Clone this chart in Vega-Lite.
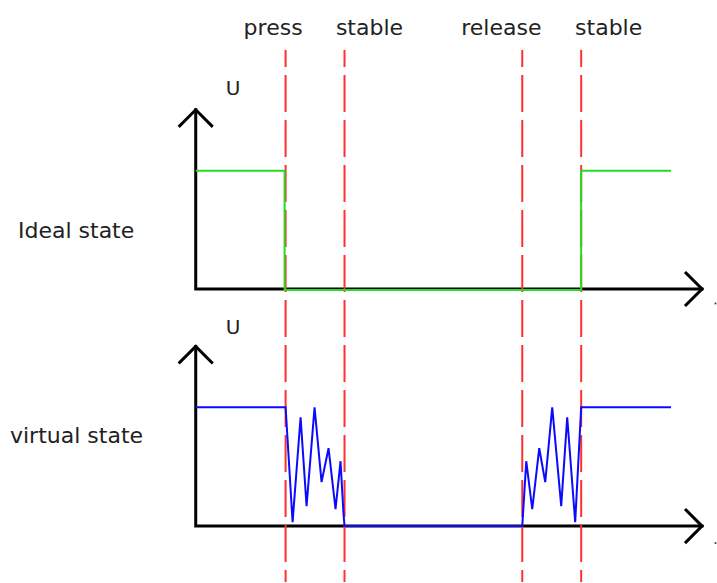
{
  "$schema": "https://vega.github.io/schema/vega-lite/v6.json",
  "width": 717,
  "height": 583,
  "padding": 0,
  "autosize": {"type": "fit", "contains": "padding"},
  "background": "white",
  "config": {"view": {"stroke": null}},
  "datasets": {
    "axes": [
      {"seg": "u-axis", "i": 1, "x": 196, "y": 473},
      {"seg": "u-axis", "i": 2, "x": 196, "y": 293.5},
      {"seg": "u-axis", "i": 3, "x": 703, "y": 293.5},
      {"seg": "u-up", "i": 1, "x": 180, "y": 457},
      {"seg": "u-up", "i": 2, "x": 196, "y": 473},
      {"seg": "u-up", "i": 3, "x": 212, "y": 457},
      {"seg": "u-right", "i": 1, "x": 687, "y": 309.5},
      {"seg": "u-right", "i": 2, "x": 703, "y": 293.5},
      {"seg": "u-right", "i": 3, "x": 687, "y": 277.5},
      {"seg": "l-axis", "i": 1, "x": 196, "y": 236},
      {"seg": "l-axis", "i": 2, "x": 196, "y": 56},
      {"seg": "l-axis", "i": 3, "x": 703, "y": 56},
      {"seg": "l-up", "i": 1, "x": 180, "y": 220},
      {"seg": "l-up", "i": 2, "x": 196, "y": 236},
      {"seg": "l-up", "i": 3, "x": 212, "y": 220},
      {"seg": "l-right", "i": 1, "x": 687, "y": 72},
      {"seg": "l-right", "i": 2, "x": 703, "y": 56},
      {"seg": "l-right", "i": 3, "x": 687, "y": 40}
    ],
    "ideal": [
      {"i": 1, "x": 196, "y": 412},
      {"i": 2, "x": 285, "y": 412},
      {"i": 3, "x": 285, "y": 292.5},
      {"i": 4, "x": 582, "y": 292.5},
      {"i": 5, "x": 582, "y": 412},
      {"i": 6, "x": 672, "y": 412}
    ],
    "virtual": [
      {"i": 1, "x": 196, "y": 175},
      {"i": 2, "x": 286, "y": 175},
      {"i": 3, "x": 293, "y": 60},
      {"i": 4, "x": 301, "y": 165},
      {"i": 5, "x": 307, "y": 76},
      {"i": 6, "x": 315, "y": 175},
      {"i": 7, "x": 322, "y": 100},
      {"i": 8, "x": 329, "y": 134},
      {"i": 9, "x": 336, "y": 73},
      {"i": 10, "x": 341, "y": 121},
      {"i": 11, "x": 344, "y": 68},
      {"i": 12, "x": 345, "y": 56},
      {"i": 13, "x": 523, "y": 56},
      {"i": 14, "x": 527, "y": 121},
      {"i": 15, "x": 533, "y": 73},
      {"i": 16, "x": 540, "y": 134},
      {"i": 17, "x": 546, "y": 100},
      {"i": 18, "x": 553, "y": 175},
      {"i": 19, "x": 562, "y": 76},
      {"i": 20, "x": 568, "y": 165},
      {"i": 21, "x": 576, "y": 60},
      {"i": 22, "x": 582, "y": 175},
      {"i": 23, "x": 672, "y": 175}
    ],
    "events": [
      {"x": 286, "y": 533, "y2": 0},
      {"x": 345, "y": 533, "y2": 0},
      {"x": 523, "y": 533, "y2": 0},
      {"x": 582, "y": 533, "y2": 0}
    ],
    "labels": [
      {"label": "press", "x": 273.5, "y": 548},
      {"label": "stable", "x": 370, "y": 548},
      {"label": "release", "x": 502, "y": 548},
      {"label": "stable", "x": 609.5, "y": 548}
    ],
    "axisLabels": [
      {"label": "U", "x": 233.5, "y": 488},
      {"label": "U", "x": 233.5, "y": 248}
    ],
    "sideLabels": [
      {"label": "Ideal state", "x": 18, "y": 345},
      {"label": "virtual state", "x": 10, "y": 139}
    ],
    "dots": [
      {"x": 716.5, "y": 279},
      {"x": 716.5, "y": 39}
    ]
  },
  "encoding": {
    "x": {"field": "x", "type": "quantitative", "scale": {"domain": [0, 717], "nice": false, "zero": false}, "axis": null},
    "y": {"field": "y", "type": "quantitative", "scale": {"domain": [0, 583], "nice": false, "zero": false}, "axis": null}
  },
  "layer": [
    {
      "data": {"name": "axes"},
      "mark": {"type": "line", "color": "black", "strokeWidth": 3, "strokeCap": "square", "strokeJoin": "miter", "clip": false},
      "encoding": {
        "detail": {"field": "seg", "type": "nominal"},
        "order": {"field": "i", "type": "quantitative"}
      }
    },
    {
      "data": {"name": "events"},
      "mark": {"type": "rule", "color": "#ff3030", "strokeWidth": 2, "strokeDash": [37, 8], "strokeDashOffset": 20},
      "encoding": {"y2": {"field": "y2"}}
    },
    {
      "data": {"name": "ideal"},
      "mark": {"type": "line", "color": "#22dd22", "strokeWidth": 2},
      "encoding": {"order": {"field": "i", "type": "quantitative"}}
    },
    {
      "data": {"name": "virtual"},
      "mark": {"type": "line", "color": "#0a0aff", "strokeWidth": 2},
      "encoding": {"order": {"field": "i", "type": "quantitative"}}
    },
    {
      "data": {"name": "labels"},
      "mark": {"type": "text", "font": "DejaVu Sans", "fontSize": 22, "color": "#222222", "baseline": "alphabetic", "align": "center"},
      "encoding": {"text": {"field": "label"}}
    },
    {
      "data": {"name": "axisLabels"},
      "mark": {"type": "text", "font": "DejaVu Sans", "fontSize": 20, "color": "#222222", "baseline": "alphabetic", "align": "center"},
      "encoding": {"text": {"field": "label"}}
    },
    {
      "data": {"name": "sideLabels"},
      "mark": {"type": "text", "font": "DejaVu Sans", "fontSize": 22, "color": "#222222", "baseline": "alphabetic", "align": "left"},
      "encoding": {"text": {"field": "label"}}
    },
    {
      "data": {"name": "dots"},
      "mark": {"type": "point", "shape": "square", "size": 3, "filled": true, "color": "#333333", "opacity": 1},
      "encoding": {}
    }
  ]
}
